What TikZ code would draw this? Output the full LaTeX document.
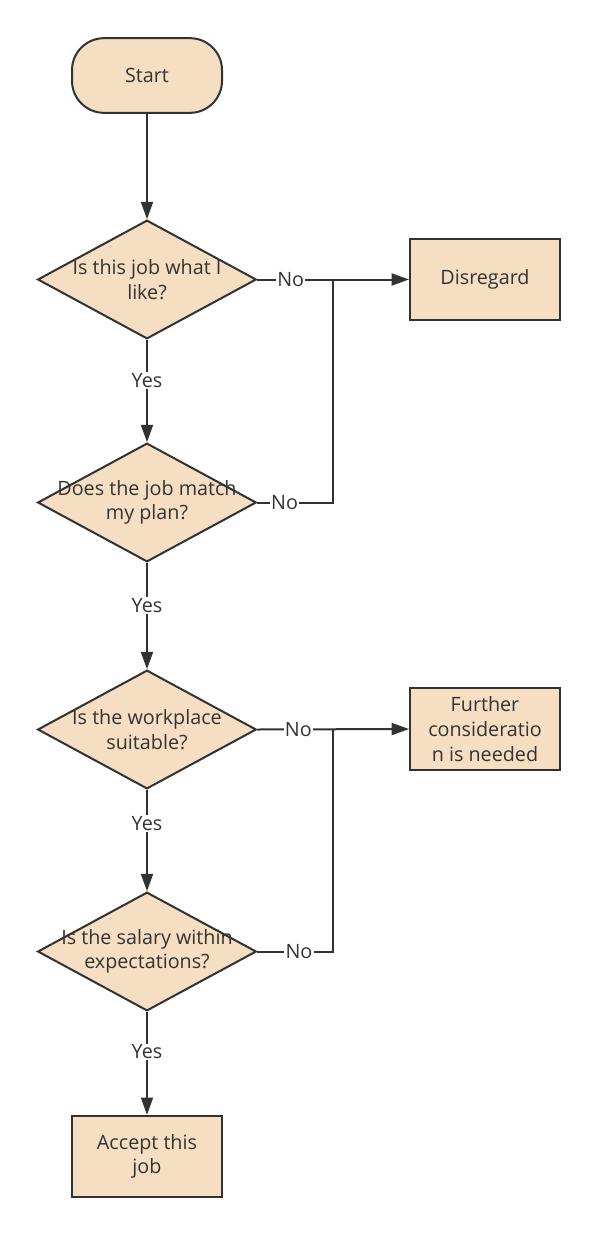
\documentclass[tikz,border=0pt]{standalone}
\usepackage{fontspec}
\setmainfont{Open Sans}
\usetikzlibrary{arrows.meta,shapes.geometric}
\definecolor{FlowInk}{HTML}{323232}
\definecolor{FlowFill}{HTML}{F5DEC2}
\definecolor{FlowText}{HTML}{333333}

\begin{document}
\begin{tikzpicture}[
    x=0.75pt,y=-0.75pt,
    >={Triangle[length=13pt,width=9pt]},
    every node/.style={font=\fontsize{14.8}{18.5}\selectfont,text=FlowText},
    terminal/.style={draw=FlowInk,fill=FlowFill,line width=1.5pt,rounded corners=24pt,
      minimum width=112.5pt,minimum height=56pt},
    decision/.style={draw=FlowInk,fill=FlowFill,line width=1.5pt,diamond,
      minimum width=164pt,minimum height=89pt,inner sep=0pt},
    outcome/.style={draw=FlowInk,fill=FlowFill,line width=1.5pt,align=center,
      minimum width=112.5pt,minimum height=61pt,inner sep=2pt},
    flow/.style={draw=FlowInk,line width=1.5pt},
    answer/.style={fill=white,inner sep=1pt}
  ]
  \useasboundingbox[fill=white] (0,0) rectangle (597,1234);

  % main column
  \node[terminal] (start) at (147,75.5) {Start};
  \node[decision,label={[align=center]center:{Is this job what I\\like?}}] (q1) at (147,279.5) {};
  \node[decision,label={[align=center]center:{Does the job match\\my plan?}}] (q2) at (147,502.5) {};
  \node[decision,label={[align=center]center:{Is the workplace\\suitable?}}] (q3) at (147,729.5) {};
  \node[decision,label={[align=center]center:{Is the salary within\\expectations?}}] (q4) at (147,951.5) {};
  \node[outcome] (accept) at (147,1156.5) {Accept this\\job};

  % side column
  \node[outcome] (disregard) at (485,279.5) {Disregard};
  \node[outcome] (further) at (485,729) {Further\\consideratio\\n is needed};
  \coordinate (j1) at (333,279.5);
  \coordinate (j2) at (333,729.5);

  % yes path
  \draw[flow,->] (start) -- (q1);
  \draw[flow,->] (q1) -- node[answer,pos=0.4]{Yes} (q2);
  \draw[flow,->] (q2) -- node[answer,pos=0.4]{Yes} (q3);
  \draw[flow,->] (q3) -- node[answer,pos=0.33]{Yes} (q4);
  \draw[flow,->] (q4) -- node[answer,pos=0.39]{Yes} (accept);

  % no path
  \draw[flow,->] (q1.east) -- node[answer,pos=0.22]{No} (disregard.west);
  \draw[flow] (q2.east) -- node[answer,pos=0.36]{No} (q2.east -| j1) -- (j1);
  \draw[flow,->] (q3.east) -- node[answer,pos=0.27]{No} (further.west);
  \draw[flow] (q4.east) -- node[answer,pos=0.55]{No} (q4.east -| j2) -- (j2);
\end{tikzpicture}
\end{document}
